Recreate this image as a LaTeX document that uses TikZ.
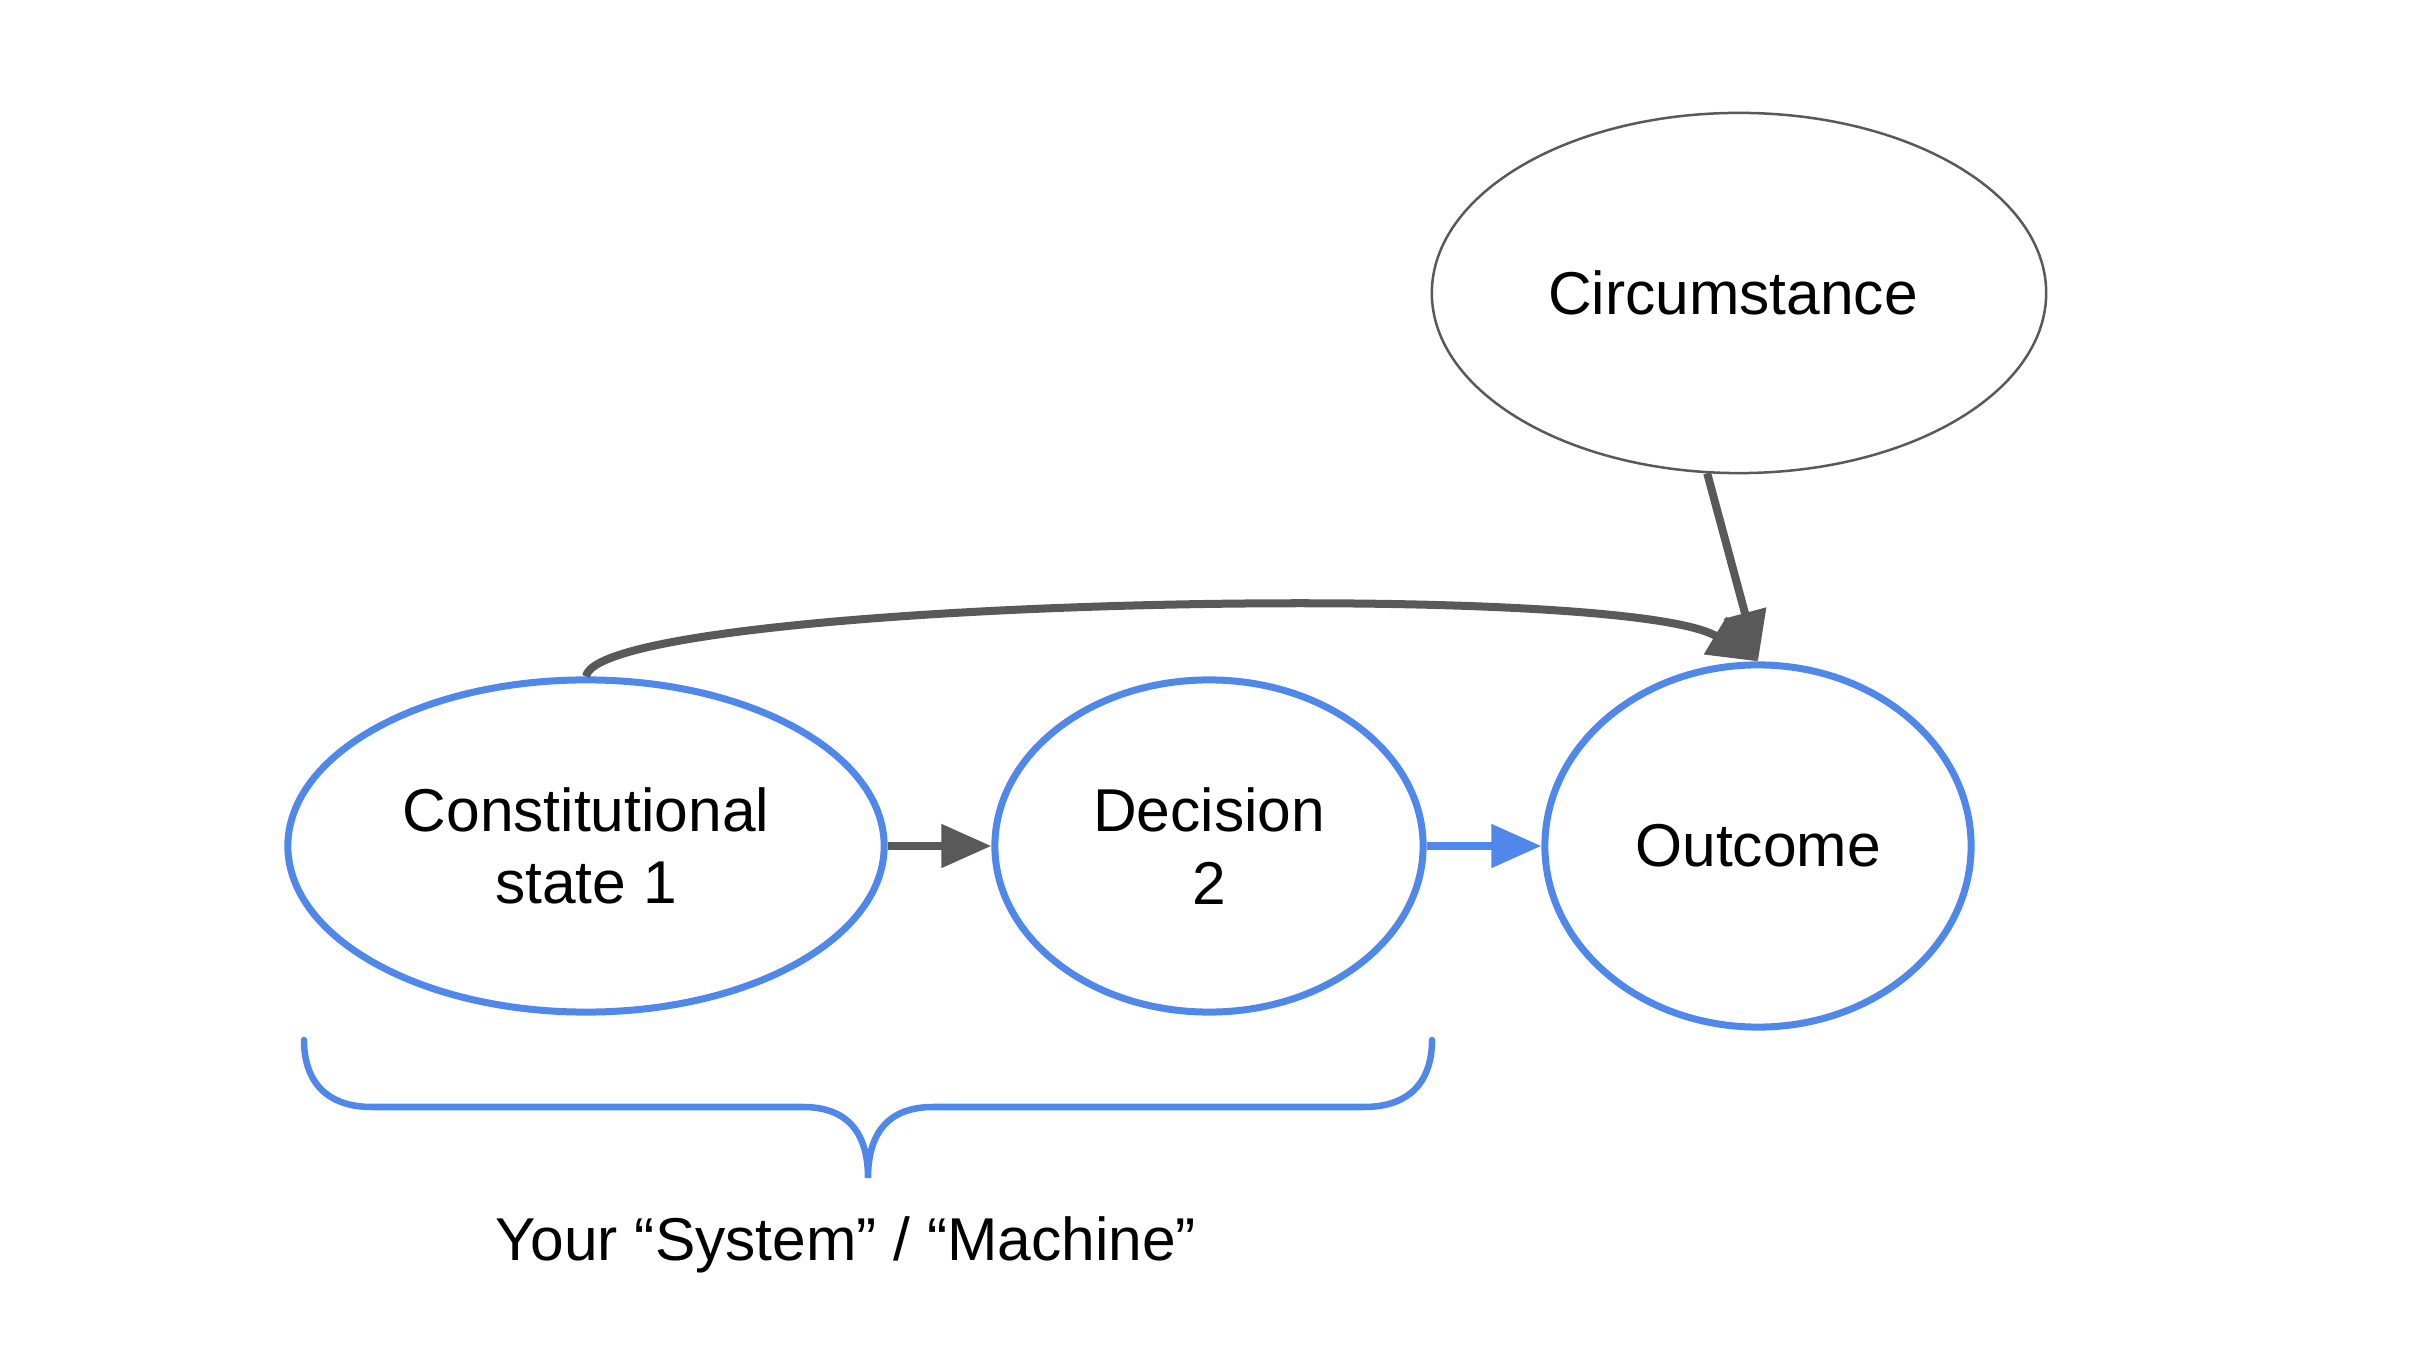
\documentclass[tikz,border=0pt]{standalone}
\usepackage{fontspec}
\setmainfont{Liberation Sans}
\usetikzlibrary{shapes.geometric,arrows.meta}
\definecolor{cblue}{HTML}{4F88EA}
\definecolor{cgrey}{HTML}{595959}
\tikzset{
  bluenode/.style={ellipse, draw=cblue, line width=0.07cm, inner sep=0pt, align=center,
    font=\fontsize{17.2}{20.6}\selectfont},
  greynode/.style={ellipse, draw=cgrey, line width=0.025cm, inner sep=0pt, align=center,
    font=\fontsize{17.2}{20.6}\selectfont},
  greyarrow/.style={draw=cgrey, line width=0.08cm, -{Triangle[length=0.5cm,width=0.42cm]}},
  bluearrow/.style={draw=cblue, line width=0.08cm, -{Triangle[length=0.5cm,width=0.42cm]}},
}
\begin{document}
\begin{tikzpicture}[x=0.01cm,y=0.01cm]
\useasboundingbox (0,0) rectangle (2430,1360);
\node[greynode, minimum width=6.14cm, minimum height=3.60cm] (circ) at (1739,1067) {\hspace*{-0.12cm}Circumstance};
\node[bluenode, minimum width=5.96cm, minimum height=3.32cm] (cs) at (586,514) {Constitutional\\state 1};
\node[bluenode, minimum width=4.28cm, minimum height=3.32cm] (dec) at (1209,514) {Decision\\2};
\node[bluenode, minimum width=4.26cm, minimum height=3.62cm] (out) at (1758,514) {Outcome};
\draw[greyarrow] (cs.east) -- (dec.west);
\draw[bluearrow] (dec.east) -- (out.west);
\draw[greyarrow] (cs.north) .. controls (600,760) and (1620,782) .. (out.north);
\draw[greyarrow] (circ.260) -- (out.north);
\coordinate (bl) at (304,320);
\coordinate (br) at (1432,320);
\coordinate (bt) at (868,182);
\draw[cblue, line width=0.065cm, line cap=round]
  (bl) .. controls (304,280) and (325,253) .. (372,253) -- (803,253)
  .. controls (845,253) and (868,230) .. (bt)
  .. controls (868,230) and (891,253) .. (933,253) -- (1364,253)
  .. controls (1411,253) and (1432,280) .. (br);
\node[font=\fontsize{17.2}{20.6}\selectfont] (lab) at (846,115) {Your “System” / “Machine”};
\end{tikzpicture}
\end{document}
